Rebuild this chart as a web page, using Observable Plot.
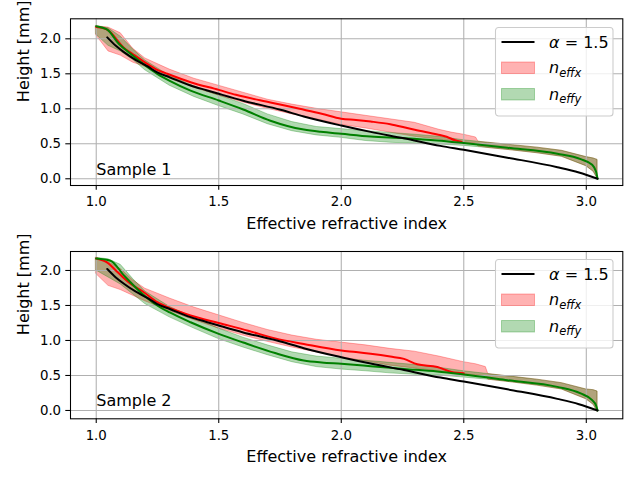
<!DOCTYPE html>
<html><head><meta charset="utf-8">
<script src="https://cdn.jsdelivr.net/npm/d3@7"></script>
<script src="https://cdn.jsdelivr.net/npm/@observablehq/plot@0.6"></script>
<style>
body{margin:0;background:#fff;font-family:"DejaVu Sans",sans-serif;}
.panel{position:relative;width:640px;height:240px;}
</style></head><body><div id="chart"></div><script>
// ---------- data ----------
const xTicks = [1.0, 1.5, 2.0, 2.5, 3.0];
const yTicks = [0.0, 0.5, 1.0, 1.5, 2.0];
const xLabel = "Effective refractive index";
const yLabel = "Height [mm]";
const sampleLabels = ["Sample 1", "Sample 2"];

// model curve alpha = 1.5
const alphaN = [1.045, 1.08, 1.113, 1.16, 1.21, 1.249, 1.3, 1.385, 1.45, 1.5, 1.6, 1.752, 1.847, 2.0, 2.12, 2.256, 2.405, 2.5, 2.678, 2.882, 2.97, 3.046];
const alphaH = [2.02, 1.9, 1.81, 1.7, 1.605, 1.52, 1.45, 1.333, 1.265, 1.214, 1.115, 0.986, 0.89, 0.761, 0.67, 0.578, 0.47, 0.414, 0.302, 0.166, 0.09, 0.0];

// Sample 1
const s1RedN = [1.0, 1.04, 1.07, 1.09, 1.11, 1.15, 1.2, 1.249, 1.29, 1.385, 1.5, 1.57, 1.711, 1.83, 1.92, 2.0, 2.06, 2.12, 2.2, 2.256, 2.3, 2.392, 2.43, 2.465, 2.49];
const s1RedH = [2.17, 2.14, 2.05, 1.96, 1.88, 1.78, 1.66, 1.557, 1.5, 1.38, 1.27, 1.2, 1.09, 1.0, 0.93, 0.857, 0.84, 0.818, 0.78, 0.737, 0.7, 0.633, 0.6, 0.55, 0.53];
const s1GreenN = [1.0, 1.045, 1.092, 1.14, 1.2, 1.249, 1.3, 1.385, 1.5, 1.6, 1.711, 1.78, 1.847, 1.916, 2.0, 2.12, 2.256, 2.392, 2.5, 2.678, 2.882, 2.977, 3.024, 3.04, 3.046];
const s1GreenH = [2.18, 2.13, 1.93, 1.786, 1.62, 1.5, 1.4, 1.26, 1.119, 0.99, 0.83, 0.755, 0.704, 0.671, 0.643, 0.604, 0.58, 0.547, 0.51, 0.443, 0.357, 0.28, 0.2, 0.1, 0.0];
const s1RedBandN  = [1.0, 1.05, 1.1, 1.15, 1.2, 1.3, 1.4, 1.5, 1.6, 1.7, 1.8, 1.9, 2.0, 2.1, 2.2, 2.3, 2.4, 2.45, 2.5, 2.55, 2.56, 2.6, 2.7, 2.8, 2.9, 3.0, 3.03, 3.046];
const s1RedBandLo = [2.05, 1.82, 1.76, 1.66, 1.6, 1.43, 1.3, 1.19, 1.09, 1.0, 0.92, 0.85, 0.77, 0.72, 0.66, 0.6, 0.56, 0.54, 0.52, 0.5, 0.46, 0.44, 0.405, 0.365, 0.315, 0.18, 0.1, 0.0];
const s1RedBandHi = [2.18, 2.16, 2.08, 1.86, 1.72, 1.56, 1.43, 1.33, 1.23, 1.13, 1.06, 1.0, 0.95, 0.9, 0.85, 0.8, 0.7, 0.66, 0.63, 0.59, 0.53, 0.515, 0.48, 0.445, 0.4, 0.31, 0.29, 0.27];
const s1GreenBandN  = [1.0, 1.05, 1.1, 1.15, 1.2, 1.3, 1.4, 1.5, 1.6, 1.7, 1.8, 1.9, 2.0, 2.1, 2.2, 2.3, 2.4, 2.5, 2.6, 2.7, 2.8, 2.9, 3.0, 3.03, 3.046];
const s1GreenBandLo = [2.06, 1.9, 1.82, 1.7, 1.55, 1.33, 1.17, 1.04, 0.92, 0.78, 0.68, 0.62, 0.585, 0.54, 0.515, 0.5, 0.49, 0.47, 0.44, 0.405, 0.365, 0.315, 0.18, 0.1, 0.0];
const s1GreenBandHi = [2.18, 2.15, 2.03, 1.85, 1.69, 1.47, 1.32, 1.19, 1.07, 0.92, 0.81, 0.74, 0.71, 0.68, 0.655, 0.63, 0.6, 0.55, 0.515, 0.48, 0.445, 0.4, 0.31, 0.29, 0.27];

// Sample 2
const s2RedN = [1.0, 1.05, 1.08, 1.11, 1.14, 1.19, 1.249, 1.31, 1.385, 1.5, 1.62, 1.73, 1.847, 2.0, 2.06, 2.12, 2.2, 2.256, 2.31, 2.392, 2.45, 2.5];
const s2RedH = [2.17, 2.1, 2.0, 1.9, 1.81, 1.7, 1.547, 1.45, 1.357, 1.25, 1.14, 1.03, 0.95, 0.857, 0.835, 0.81, 0.77, 0.737, 0.66, 0.62, 0.55, 0.53];
const s2GreenN = [1.0, 1.058, 1.113, 1.181, 1.249, 1.3, 1.385, 1.5, 1.6, 1.73, 1.847, 1.92, 2.0, 2.12, 2.256, 2.392, 2.5, 2.678, 2.882, 2.977, 3.024, 3.04, 3.046];
const s2GreenH = [2.17, 2.14, 1.93, 1.69, 1.5, 1.4, 1.26, 1.094, 0.97, 0.82, 0.714, 0.685, 0.666, 0.633, 0.594, 0.557, 0.514, 0.433, 0.337, 0.243, 0.147, 0.07, 0.0];
const s2RedBandN  = [1.0, 1.05, 1.1, 1.15, 1.2, 1.3, 1.4, 1.5, 1.6, 1.7, 1.8, 1.9, 2.0, 2.1, 2.2, 2.3, 2.4, 2.5, 2.55, 2.59, 2.6, 2.7, 2.8, 2.9, 3.0, 3.03, 3.046];
const s2RedBandLo = [1.95, 1.78, 1.72, 1.64, 1.56, 1.42, 1.29, 1.17, 1.07, 0.98, 0.9, 0.83, 0.76, 0.7, 0.64, 0.6, 0.56, 0.52, 0.5, 0.49, 0.44, 0.4, 0.355, 0.3, 0.16, 0.08, -0.02];
const s2RedBandHi = [2.18, 2.12, 2.02, 1.86, 1.74, 1.6, 1.47, 1.36, 1.25, 1.15, 1.07, 1.01, 0.97, 0.93, 0.88, 0.84, 0.77, 0.69, 0.66, 0.62, 0.52, 0.48, 0.44, 0.39, 0.3, 0.29, 0.27];
const s2GreenBandN  = [1.0, 1.05, 1.1, 1.15, 1.2, 1.3, 1.4, 1.5, 1.6, 1.7, 1.8, 1.9, 2.0, 2.1, 2.2, 2.3, 2.4, 2.5, 2.6, 2.7, 2.8, 2.9, 3.0, 3.03, 3.046];
const s2GreenBandLo = [2.0, 1.9, 1.8, 1.66, 1.52, 1.33, 1.17, 1.02, 0.9, 0.79, 0.69, 0.62, 0.585, 0.56, 0.53, 0.51, 0.5, 0.47, 0.44, 0.4, 0.355, 0.3, 0.16, 0.08, -0.02];
const s2GreenBandHi = [2.18, 2.16, 2.08, 1.88, 1.7, 1.48, 1.32, 1.17, 1.04, 0.93, 0.83, 0.77, 0.74, 0.71, 0.68, 0.65, 0.61, 0.56, 0.52, 0.48, 0.44, 0.39, 0.3, 0.29, 0.27];

const legendItems = [
  {kind: "line", color: "black"},
  {kind: "patch", color: "red", sub: "effx"},
  {kind: "patch", color: "green", sub: "effy"}
];

// ---------- helpers ----------
const rows = (ns, hs) => ns.map((n, i) => ({n, h: hs[i]}));
const bandRows = (ns, lo, hi) => ns.map((n, i) => ({n, lo: lo[i], hi: hi[i]}));

function makeLegend(top) {
  const svg = d3.create("svg")
    .attr("width", 119).attr("height", 90)
    .style("position", "absolute").style("left", "495px").style("top", top + "px")
    .style("font-family", "DejaVu Sans").style("overflow", "visible");
  svg.append("rect").attr("x", 0.5).attr("y", 0.5).attr("width", 117.5).attr("height", 88.5).attr("rx", 3)
    .attr("fill", "white").attr("fill-opacity", 0.8).attr("stroke", "#cccccc").attr("stroke-width", 1.07);
  const rowY = [15, 41, 67.5];
  legendItems.forEach((it, i) => {
    const cy = rowY[i];
    if (it.kind === "line") {
      svg.append("line").attr("x1", 6.5).attr("x2", 39.5).attr("y1", cy).attr("y2", cy)
        .attr("stroke", it.color).attr("stroke-width", 2);
      const t = svg.append("text").attr("x", 54).attr("y", cy + 5.5).attr("font-size", 16).attr("fill", "black");
      t.append("tspan").attr("font-style", "italic").text("α");
      t.append("tspan").text(" = 1.5");
    } else {
      svg.append("rect").attr("x", 6.5).attr("y", cy - 6).attr("width", 33).attr("height", 11.5)
        .attr("fill", it.color).attr("fill-opacity", 0.3).attr("stroke", it.color).attr("stroke-opacity", 0.3).attr("stroke-width", 1);
      const t = svg.append("text").attr("x", 54).attr("y", cy + 5).attr("font-size", 16).attr("fill", "black").attr("font-style", "italic");
      t.append("tspan").text("n");
      t.append("tspan").attr("font-size", 11.5).attr("dy", 3.5).text(it.sub);
    }
  });
  return svg.node();
}

function panel(cfg) {
  const wrap = document.createElement("div");
  wrap.className = "panel";
  const chart = Plot.plot({
    width: 640, height: 240,
    marginTop: cfg.mt, marginBottom: cfg.mb, marginLeft: 70, marginRight: 17.7,
    style: {fontFamily: "DejaVu Sans", fontSize: "13.33px", color: "black", background: "white", overflow: "visible"},
    x: {domain: [0.895, 3.149]},
    y: {domain: cfg.yDomain},
    marks: [
      Plot.areaY(bandRows(cfg.rbN, cfg.rbLo, cfg.rbHi), {x: "n", y1: "lo", y2: "hi", fill: "red", fillOpacity: 0.3, stroke: "red", strokeOpacity: 0.3, strokeWidth: 1}),
      Plot.areaY(bandRows(cfg.gbN, cfg.gbLo, cfg.gbHi), {x: "n", y1: "lo", y2: "hi", fill: "green", fillOpacity: 0.3, stroke: "green", strokeOpacity: 0.3, strokeWidth: 1}),
      Plot.ruleX(xTicks, {stroke: "#b0b0b0", strokeWidth: 1.07}),
      Plot.ruleY(yTicks, {stroke: "#b0b0b0", strokeWidth: 1.07}),
      Plot.line(rows(cfg.rN, cfg.rH), {x: "n", y: "h", stroke: "red", strokeWidth: 2, curve: "monotone-x"}),
      Plot.line(rows(cfg.gN, cfg.gH), {x: "n", y: "h", stroke: "green", strokeWidth: 2, curve: "monotone-x"}),
      Plot.line(rows(alphaN, alphaH), {x: "n", y: "h", stroke: "black", strokeWidth: 2, curve: "monotone-x"}),
      Plot.frame({stroke: "black", strokeWidth: 1.07}),
      Plot.axisX({ticks: xTicks, tickFormat: d3.format(".1f"), tickSize: 4.7, tickPadding: 6.8, fontSize: 13.33, label: null, strokeWidth: 1.07}),
      Plot.axisY({ticks: yTicks, tickFormat: d3.format(".1f"), tickSize: 4.7, tickPadding: 4.7, fontSize: 13.33, label: null, strokeWidth: 1.07}),
      Plot.text([{n: 1.0, h: 0, t: cfg.label}], {x: "n", y: "h", text: "t", textAnchor: "start", lineAnchor: "bottom", dy: -4, fontSize: 16}),
      Plot.text([xLabel], {frameAnchor: "bottom", text: d => d, dy: 43, lineAnchor: "bottom", fontSize: 16}),
      Plot.text([yLabel], {frameAnchor: "left", text: d => d, rotate: -90, dx: -42, lineAnchor: "bottom", fontSize: 16})
    ]
  });
  wrap.appendChild(chart);
  wrap.appendChild(makeLegend(cfg.legendTop));
  return wrap;
}

const root = document.getElementById("chart");
root.appendChild(panel({
  mt: 18.3, mb: 55, yDomain: [-0.096, 2.286], label: sampleLabels[0], legendTop: 27,
  rN: s1RedN, rH: s1RedH, gN: s1GreenN, gH: s1GreenH,
  rbN: s1RedBandN, rbLo: s1RedBandLo, rbHi: s1RedBandHi,
  gbN: s1GreenBandN, gbLo: s1GreenBandLo, gbHi: s1GreenBandHi
}));
root.appendChild(panel({
  mt: 11, mb: 61.7, yDomain: [-0.119, 2.271], label: sampleLabels[1], legendTop: 19,
  rN: s2RedN, rH: s2RedH, gN: s2GreenN, gH: s2GreenH,
  rbN: s2RedBandN, rbLo: s2RedBandLo, rbHi: s2RedBandHi,
  gbN: s2GreenBandN, gbLo: s2GreenBandLo, gbHi: s2GreenBandHi
}));
</script></body></html>
